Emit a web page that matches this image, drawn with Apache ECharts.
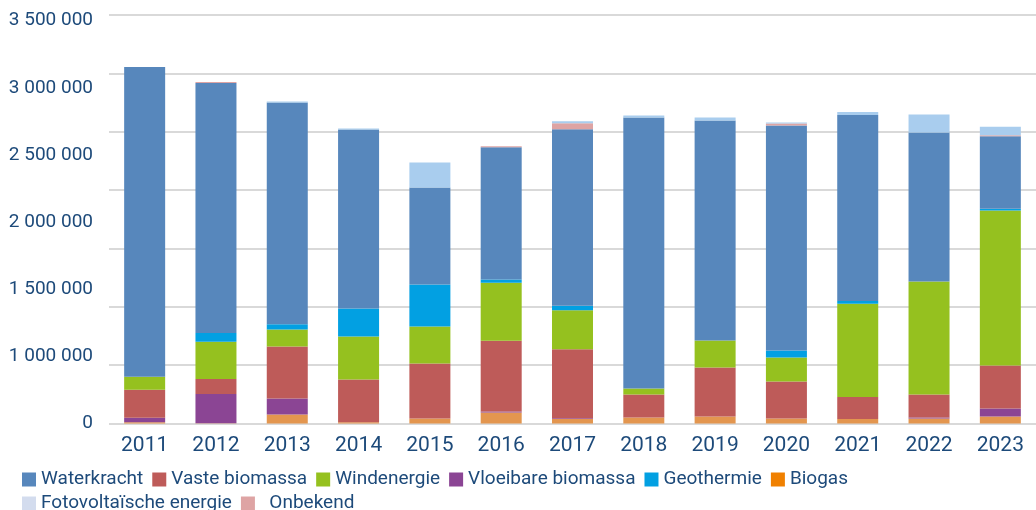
<!DOCTYPE html>
<html>
<head>
<meta charset="utf-8">
<script src="https://cdn.jsdelivr.net/npm/echarts@6/dist/echarts.min.js"></script>
<style>
  html, body { margin: 0; padding: 0; background: #fff; }
  #chart { width: 1036px; height: 510px; }
</style>
</head>
<body>
<div id="chart"></div>
<script>
var years = ['2011','2012','2013','2014','2015','2016','2017','2018','2019','2020','2021','2022','2023'];

// waarden per bron (stapelvolgorde van onder naar boven)
var biogas      = [10000, 3000, 77000, 11000, 43000, 94000, 38000, 51000, 60000, 43000, 38000, 43000, 60000];
var vloeibaar   = [40000, 250000, 137000, 0, 0, 8000, 8000, 0, 0, 0, 0, 8000, 68000];
var vasteBio    = [240000, 128000, 446000, 366000, 471000, 608000, 591000, 197000, 420000, 317000, 188000, 197000, 368000];
var wind        = [111000, 320000, 146000, 368000, 317000, 497000, 334000, 51000, 231000, 206000, 800000, 968000, 1328000];
var geothermie  = [0, 74000, 45000, 240000, 360000, 26000, 37000, 0, 0, 60000, 23000, 0, 17000];
var waterkracht = [2654000, 2142000, 1900000, 1534000, 831000, 1134000, 1514000, 2322000, 1885000, 1928000, 1594000, 1277000, 620000];
var onbekend    = [0, 8500, 0, 0, 0, 8500, 51000, 0, 0, 17000, 0, 0, 8500];
var pv          = [0, 0, 8500, 8500, 214000, 0, 17000, 17000, 26000, 8500, 26000, 154000, 74000];

// labels zoals in het origineel (500 000 ontbreekt daar)
var yTickLabels = ['0', '1 000 000', '1 500 000', '2 000 000', '2 500 000', '3 000 000', '3 500 000'];

var textColor = '#1d4a7a';
var font = 'Roboto';

var chart = echarts.init(document.getElementById('chart'));

function bar(name, data, color) {
    return {
        name: name,
        type: 'bar',
        stack: 'totaal',
        barWidth: 41,
        data: data,
        itemStyle: { color: color },
        emphasis: { disabled: true }
    };
}

function legendRow(top, items) {
    return {
        left: 17,
        top: top,
        itemWidth: 14,
        itemHeight: 14,
        itemGap: 9,
        icon: 'rect',
        textStyle: { color: textColor, fontSize: 19, fontFamily: font, lineHeight: 15 },
        formatter: function (name) {
            return name === 'Onbekend' ? '  Onbekend' : name;
        },
        data: items
    };
}

chart.setOption({
    animation: false,
    grid: { left: 109, right: -6, top: 15, bottom: 86.5 },
    legend: [
        legendRow(465, [
            { name: 'Waterkracht', itemStyle: { color: '#5787bc' } },
            { name: 'Vaste biomassa', itemStyle: { color: '#be5b59' } },
            { name: 'Windenergie', itemStyle: { color: '#95c11f' } },
            { name: 'Vloeibare biomassa', itemStyle: { color: '#8b4594' } },
            { name: 'Geothermie', itemStyle: { color: '#02a0e2' } },
            { name: 'Biogas', itemStyle: { color: '#f08000' } }
        ]),
        legendRow(489, [
            { name: 'Fotovoltaïsche energie', itemStyle: { color: '#d3dcee' } },
            { name: 'Onbekend', itemStyle: { color: '#dea4a4' } }
        ])
    ],
    xAxis: {
        type: 'category',
        data: years,
        axisLine: { show: false },
        axisTick: { show: false },
        axisLabel: { color: textColor, fontSize: 21, fontFamily: font, margin: 12 }
    },
    yAxis: [
        {
            type: 'value',
            min: 0,
            max: 3500000,
            interval: 500000,
            axisLabel: { show: false },
            axisLine: { show: false },
            axisTick: { show: false },
            splitLine: { lineStyle: { color: '#d9d9d9', width: 2 } }
        },
        {
            type: 'value',
            position: 'left',
            min: 0,
            max: 6.085,
            interval: 1,
            axisLine: { show: false },
            axisTick: { show: false },
            splitLine: { show: false },
            axisLabel: {
                color: textColor,
                fontSize: 19,
                fontFamily: font,
                margin: 16,
                formatter: function (v) {
                    return Number.isInteger(v) && yTickLabels[v] !== undefined ? yTickLabels[v] : '';
                }
            }
        }
    ],
    series: [
        bar('Biogas', biogas, '#e3964f'),
        bar('Vloeibare biomassa', vloeibaar, '#8b4594'),
        bar('Vaste biomassa', vasteBio, '#be5b59'),
        bar('Windenergie', wind, '#95c11f'),
        bar('Geothermie', geothermie, '#02a0e2'),
        bar('Waterkracht', waterkracht, '#5787bc'),
        bar('Onbekend', onbekend, '#dea4a4'),
        bar('Fotovoltaïsche energie', pv, '#a9cdee')
    ]
});
</script>
</body>
</html>
